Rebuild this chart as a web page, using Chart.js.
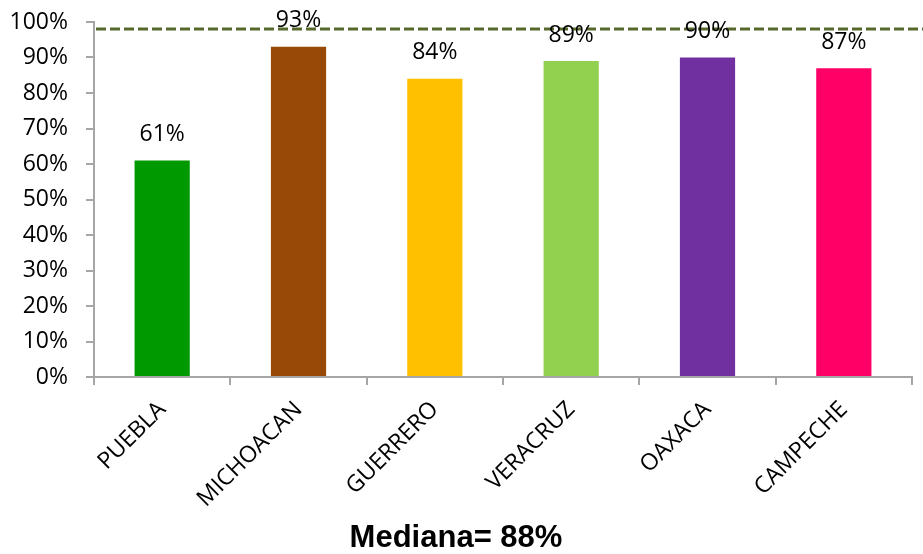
<!DOCTYPE html>
<html>
<head>
<meta charset="utf-8">
<script src="https://cdn.jsdelivr.net/npm/chart.js@4/dist/chart.umd.min.js"></script>
<style>
  html, body { margin: 0; padding: 0; background: #ffffff; }
  #wrap { width: 923px; height: 554px; }
</style>
</head>
<body>
<div id="wrap"><canvas id="c" width="923" height="554"></canvas></div>
<script>
// Coverage by state, percent
const states = ['PUEBLA', 'MICHOACAN', 'GUERRERO', 'VERACRUZ', 'OAXACA', 'CAMPECHE'];
const coverage = [61, 93, 84, 89, 90, 87];
const barColors = ['#009900', '#984807', '#FFC000', '#92D050', '#7030A0', '#FF0066'];
const referenceLevel = 98;
const medianText = 'Mediana= 88%';

// Dashed reference line across the plot
const referenceLine = {
  id: 'referenceLine',
  beforeDatasetsDraw(chart) {
    const { ctx, chartArea, scales } = chart;
    const y = scales.y.getPixelForValue(referenceLevel);
    ctx.save();
    ctx.strokeStyle = '#56682c';
    ctx.lineWidth = 3;
    ctx.setLineDash([10, 4]);
    ctx.beginPath();
    ctx.moveTo(chartArea.left + 2, y);
    ctx.lineTo(chart.width, y);
    ctx.stroke();
    ctx.restore();
  }
};

// Value labels above each bar
const valueLabels = {
  id: 'valueLabels',
  afterDatasetsDraw(chart) {
    const { ctx } = chart;
    const meta = chart.getDatasetMeta(0);
    const data = chart.data.datasets[0].data;
    ctx.save();
    ctx.font = '23px "Open Sans"';
    ctx.fillStyle = '#000000';
    ctx.textAlign = 'center';
    ctx.textBaseline = 'middle';
    meta.data.forEach((bar, i) => {
      ctx.fillText(data[i] + '%', bar.x, bar.y - 26);
    });
    ctx.restore();
  }
};

new Chart(document.getElementById('c'), {
  type: 'bar',
  data: {
    labels: states,
    datasets: [{
      data: coverage,
      backgroundColor: barColors,
      borderWidth: 0,
      categoryPercentage: 1,
      barPercentage: 0.405
    }]
  },
  options: {
    responsive: false,
    animation: false,
    layout: { padding: { top: 22, right: 11, bottom: 0, left: 0 } },
    plugins: {
      legend: { display: false },
      tooltip: { enabled: false },
      title: {
        display: true,
        position: 'bottom',
        text: medianText,
        color: '#000000',
        font: { family: '"Liberation Sans", Arial', size: 31, weight: 'bold', lineHeight: 1 },
        padding: { top: 0, bottom: 0 }
      }
    },
    scales: {
      x: {
        afterFit(scale) {
          scale.height = 146;
          scale.paddingLeft = 0;
          scale.paddingRight = 0;
        },
        border: { color: '#a6a6a6', width: 2 },
        grid: { drawOnChartArea: false, tickLength: 8, color: '#a6a6a6', lineWidth: 2 },
        ticks: {
          minRotation: 45,
          maxRotation: 45,
          padding: 11,
          color: '#000000',
          font: { family: '"Open Sans"', size: 23 }
        }
      },
      y: {
        min: 0,
        max: 100,
        afterFit(scale) {
          scale.width = 94;
          scale.paddingTop = 0;
          scale.paddingBottom = 0;
        },
        border: { color: '#a6a6a6', width: 2 },
        grid: { drawOnChartArea: false, tickLength: 8, color: '#a6a6a6', lineWidth: 2 },
        ticks: {
          stepSize: 10,
          padding: 18,
          color: '#000000',
          font: { family: '"Open Sans"', size: 23 },
          callback: (v) => v + '%'
        }
      }
    }
  },
  plugins: [referenceLine, valueLabels]
});
</script>
</body>
</html>
